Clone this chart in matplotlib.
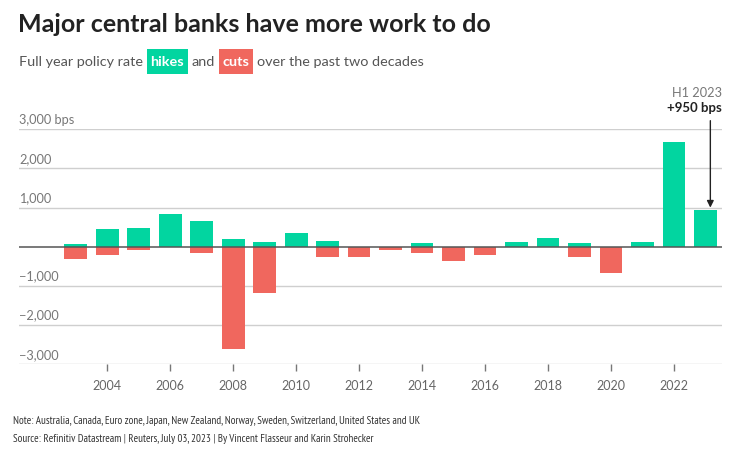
import matplotlib
matplotlib.use("Agg")
import matplotlib.pyplot as plt
from matplotlib.patches import Rectangle
from matplotlib.transforms import blended_transform_factory

years = list(range(2003, 2024))
hikes = [70, 450, 475, 835, 665, 195, 120, 350, 145, 0, 0, 85, 0, 0, 130, 220, 85, 0, 110, 2680, 950]
cuts = [-315, -205, -85, 0, -160, -2605, -1190, 0, -265, -255, -75, -160, -350, -220, 0, 0, -255, -665, 0, 0, 0]
ytick_vals = [3000, 2000, 1000, 0, -1000, -2000, -3000]
ytick_labels = ["3,000 bps", "2,000", "1,000", "", "\u22121,000", "\u22122,000", "\u22123,000"]
xtick_vals = list(range(2004, 2023, 2))

GREEN = "#02d5a0"
RED = "#f0675e"
FONT = ["Lato", "DejaVu Sans"]
NARROW = ["PT Sans Narrow", "Roboto Condensed", "Lato", "DejaVu Sans"]

plt.rcParams["font.family"] = FONT

W, H = 740, 459
fig = plt.figure(figsize=(W / 100, H / 100), dpi=100)
fig.patch.set_facecolor("white")

def fx(px):
    return px / W

def fy(py):
    return 1 - py / H

ax = fig.add_axes([fx(19), fy(364.3), fx(722) - fx(19), fy(129.3) - fy(364.3)])
ax.set_xlim(2001.2, 2023.52)
ax.set_ylim(-3000, 3000)

for v in ytick_vals:
    if v == 0:
        continue
    ax.axhline(v, color="#cfcfcf", lw=1.0, zorder=0)

ax.bar(years, hikes, width=0.72, color=GREEN, zorder=2, linewidth=0)
ax.bar(years, cuts, width=0.72, color=RED, zorder=2, linewidth=0)
ax.axhline(0, color="#555555", lw=1.1, zorder=3)

for s in ax.spines.values():
    s.set_visible(False)
ax.set_yticks([])
ax.set_xticks(xtick_vals)
ax.set_xticklabels([str(x) for x in xtick_vals], fontsize=9, color="#666666")
ax.tick_params(axis="x", length=5, width=1, color="#777777", pad=6)

tr = blended_transform_factory(ax.transAxes, ax.transData)
for v, lab in zip(ytick_vals, ytick_labels):
    if lab:
        ax.text(0, v + 90, lab, transform=tr, ha="left", va="bottom",
                fontsize=9.2, color="#777777")

# annotation for H1 2023
ax.annotate("", xy=(2023.15, 1000), xytext=(2023.15, 3220),
            arrowprops=dict(arrowstyle="-|>", color="#222222", lw=1.0,
                            mutation_scale=10, shrinkA=0, shrinkB=0),
            annotation_clip=False)
fig.text(fx(722), fy(93), "H1 2023", ha="right", va="center", fontsize=9.2, color="#777777")
fig.text(fx(722), fy(108.5), "+950 bps", ha="right", va="center", fontsize=9.5,
         color="#222222", fontweight="bold")

# title
fig.text(fx(18), fy(25), "Major central banks have more work to do", ha="left", va="center",
         fontsize=18, fontweight="bold", color="#222222")

# subtitle with highlighted words
sub_fs = 10.4
SUB_Y = fy(61.5)
fig.canvas.draw()
r = fig.canvas.get_renderer()

def right_px(t):
    return t.get_window_extent(r).x1

parts = [("Full year policy rate", None), ("hikes", GREEN), ("and", None),
         ("cuts", RED), ("over the past two decades", None)]
x_px = 19
for text, col in parts:
    if col is None:
        t = fig.text(fx(x_px), SUB_Y, text, ha="left", va="center", fontsize=sub_fs,
                     color="#555555")
        x_px = right_px(t) + 3.5
    else:
        t = fig.text(fx(x_px + 4), SUB_Y, text, ha="left", va="center", fontsize=sub_fs,
                     color="white", fontweight="bold", zorder=3)
        x1 = right_px(t) + 4
        fig.patches.append(Rectangle((fx(x_px), fy(74)), fx(x1) - fx(x_px), fy(48.5) - fy(74),
                                     transform=fig.transFigure, fc=col, ec="none", zorder=2))
        x_px = x1 + 3.5

# footnotes
notes = ["Note: Australia, Canada, Euro zone, Japan, New Zealand, Norway, Sweden, Switzerland, United States and UK",
         "Source: Refinitiv Datastream | Reuters, July 03, 2023 | By Vincent Flasseur and Karin Strohecker"]
for text, yy in zip(notes, [421, 439]):
    fig.text(fx(13), fy(yy), text, ha="left", va="center", fontsize=7.9,
             color="#333333", family=NARROW)

fig.savefig("out.png", dpi=100, facecolor="white")
